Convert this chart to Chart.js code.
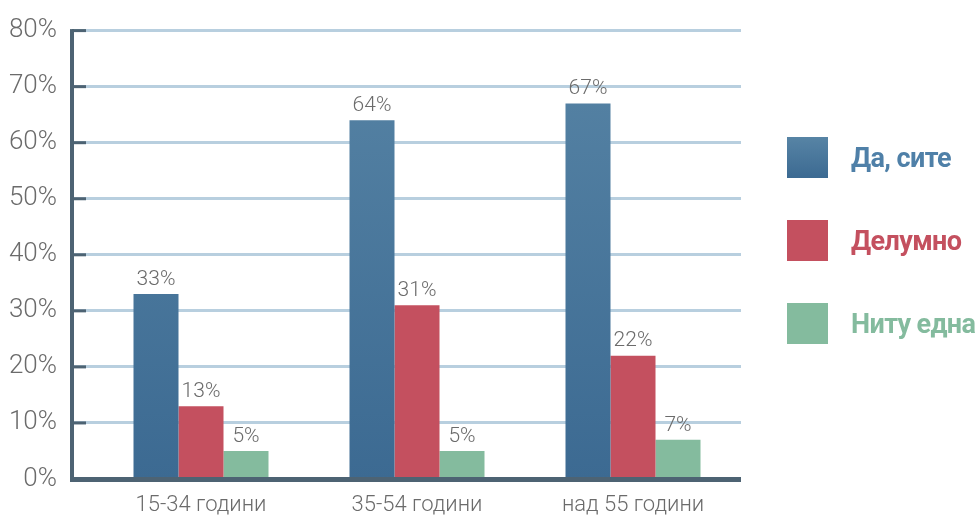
<!DOCTYPE html>
<html>
<head>
<meta charset="utf-8">
<script src="https://cdn.jsdelivr.net/npm/chart.js@4.4.1/dist/chart.umd.min.js"></script>
<style>
  body { margin: 0; background: #fff; }
  #wrap { position: relative; width: 978px; height: 515px; }
  #legend { position: absolute; left: 787px; top: 137px; font-family: Roboto, sans-serif; font-weight: bold; font-size: 27px; letter-spacing: -0.6px; white-space: nowrap; }
  .item { display: flex; align-items: center; height: 41px; margin-bottom: 42px; }
  .box { width: 41px; height: 41px; margin-right: 23px; flex: none; }
</style>
</head>
<body>
<div id="wrap">
  <canvas id="chart"></canvas>
  <div id="legend"></div>
</div>
<script>
const categories = ["15-34 години", "35-54 години", "над 55 години"];
const seriesNames = ["Да, сите", "Делумно", "Ниту една"];
const allYes = [33, 64, 67];
const partly = [13, 31, 22];
const none = [5, 5, 7];
const yTicks = [0, 10, 20, 30, 40, 50, 60, 70, 80];

const colors = ["#4a7699", "#c4505f", "#84bb9e"];
const textGray = "#6b6b6b";
const axisColor = "#4d6373";
const gridColor = "#b8cfdf";

// Blue bars fade from a lighter top to a darker bottom
function blueGradient(context) {
    const area = context.chart.chartArea;
    if (!area) return colors[0];
    const g = context.chart.ctx.createLinearGradient(0, area.top, 0, area.bottom);
    g.addColorStop(0, "#5784a5");
    g.addColorStop(1, "#3c6a92");
    return g;
}

// Value labels above each bar
const valueLabels = {
    id: "valueLabels",
    afterDatasetsDraw(chart) {
        const ctx = chart.ctx;
        ctx.save();
        ctx.font = "300 21px Roboto";
        ctx.fillStyle = textGray;
        ctx.textAlign = "center";
        ctx.textBaseline = "bottom";
        chart.data.datasets.forEach((ds, i) => {
            chart.getDatasetMeta(i).data.forEach((bar, j) => {
                ctx.fillText(ds.data[j] + "%", bar.x, bar.y - 4);
            });
        });
        ctx.restore();
    }
};

// Dark axis frame left of the plot with short tick stubs
const axisFrame = {
    id: "axisFrame",
    afterDraw(chart) {
        const ctx = chart.ctx;
        const area = chart.chartArea;
        const y = chart.scales.y;
        const x0 = area.left - 21;
        ctx.save();
        ctx.fillStyle = axisColor;
        yTicks.forEach(v => {
            const py = y.getPixelForValue(v);
            ctx.fillRect(x0, py - 1.5, 14, 3);
        });
        ctx.fillRect(x0 - 2, y.getPixelForValue(80) - 1.5, 4, area.bottom - y.getPixelForValue(80) + 4);
        ctx.fillRect(x0 - 2, area.bottom - 2, area.right - x0 + 2, 5);
        ctx.restore();
    }
};

new Chart(document.getElementById("chart"), {
    type: "bar",
    data: {
        labels: categories,
        datasets: [
            { label: seriesNames[0], data: allYes, backgroundColor: blueGradient },
            { label: seriesNames[1], data: partly, backgroundColor: colors[1] },
            { label: seriesNames[2], data: none, backgroundColor: colors[2] }
        ]
    },
    options: {
        responsive: true,
        maintainAspectRatio: false,
        animation: false,
        layout: { padding: { left: 0, right: 237, top: 29, bottom: 0 } },
        datasets: { bar: { categoryPercentage: 0.625, barPercentage: 1 } },
        plugins: { legend: { display: false }, tooltip: { enabled: false } },
        scales: {
            x: {
                afterFit: axis => { axis.height = 36; },
                grid: { display: false },
                border: { display: false },
                ticks: { color: textGray, font: { family: "Roboto", size: 22, weight: 300 }, padding: 5 }
            },
            y: {
                min: 0,
                max: 80,
                afterFit: axis => { axis.width = 93; },
                afterBuildTicks: axis => { axis.ticks = yTicks.map(v => ({ value: v })); },
                border: { display: false },
                grid: { color: gridColor, lineWidth: 3, tickLength: 21, tickColor: gridColor },
                ticks: {
                    color: textGray,
                    padding: 15,
                    font: { family: "Roboto", size: 26, weight: 300 },
                    callback: v => v + "%"
                }
            }
        }
    },
    plugins: [valueLabels, axisFrame]
});

// Legend beside the plot
const legend = document.getElementById("legend");
seriesNames.forEach((name, i) => {
    const item = document.createElement("div");
    item.className = "item";
    const bg = i === 0 ? "linear-gradient(#5784a5, #3c6a92)" : colors[i];
    item.innerHTML = `<div class="box" style="background:${bg}"></div><span style="color:${i === 0 ? "#4f80a8" : colors[i]}">${name}</span>`;
    legend.appendChild(item);
});
</script>
</body>
</html>
